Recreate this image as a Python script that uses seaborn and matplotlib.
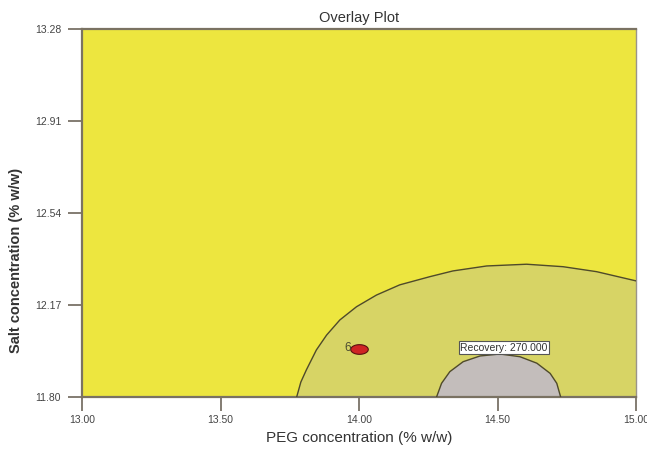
import numpy as np
import pandas as pd
import matplotlib
matplotlib.use("Agg")
import matplotlib.pyplot as plt
from matplotlib.path import Path
import seaborn as sns

# ---- data ----
x_ticks = [13.00, 13.50, 14.00, 14.50, 15.00]
y_ticks = [11.80, 12.17, 12.54, 12.91, 13.28]

# outer feasible-region boundary (PEG, Salt)
outer_peg = [13.775, 13.790, 13.810, 13.846, 13.883, 13.931, 13.991, 14.063, 14.147,
             14.256, 14.339, 14.461, 14.605, 14.737, 14.858, 15.000]
outer_salt = [11.800, 11.860, 11.909, 11.989, 12.049, 12.110, 12.163, 12.210, 12.251,
              12.284, 12.307, 12.327, 12.334, 12.324, 12.304, 12.267]

# Recovery = 270.000 contour (PEG, Salt)
rec_peg = [14.280, 14.298, 14.328, 14.376, 14.437, 14.509, 14.581, 14.642,
           14.690, 14.714, 14.728]
rec_salt = [11.800, 11.855, 11.902, 11.942, 11.965, 11.973, 11.962, 11.936,
            11.895, 11.855, 11.800]
rec_label = "Recovery: 270.000"
rec_label_pos = (14.523, 11.999)

# design point
pt_peg = [14.00]
pt_salt = [11.993]
pt_label = ["6"]

# ---- styling ----
sns.set_theme(style="white")
plt.rcParams["font.family"] = ["Liberation Sans", "DejaVu Sans"]

yellow = "#EDE63F"
olive = "#D7D465"
grey = "#C3BDBB"
edge = "#4F4A2A"

fig = plt.figure(figsize=(6.47, 4.50), dpi=100)
ax = fig.add_axes([82 / 647, 1 - 397 / 450, (636 - 82) / 647, (397 - 29) / 450])
ax.set_facecolor(yellow)

xmin, xmax = 13.00, 15.00
ymin, ymax = 11.80, 13.28

# outer region fill (close along right and bottom edges)
ox = outer_peg + [xmax]
oy = outer_salt + [ymin]
ax.fill(ox, oy, color=olive, zorder=1, lw=0)
# recovery region
ax.fill(rec_peg, rec_salt, color=grey, zorder=2, lw=0)

outer_df = pd.DataFrame({"PEG": outer_peg, "Salt": outer_salt})
rec_df = pd.DataFrame({"PEG": rec_peg, "Salt": rec_salt})
sns.lineplot(data=outer_df, x="PEG", y="Salt", sort=False, ax=ax,
             color=edge, lw=1.0, zorder=3)
sns.lineplot(data=rec_df, x="PEG", y="Salt", sort=False, ax=ax,
             color=edge, lw=1.0, zorder=3)

# elliptical marker
t = np.linspace(0, 2 * np.pi, 60)
ell = Path(np.column_stack([np.cos(t), 0.55 * np.sin(t)]), closed=True)
pt_df = pd.DataFrame({"PEG": pt_peg, "Salt": pt_salt})
sns.scatterplot(data=pt_df, x="PEG", y="Salt", ax=ax, marker=ell, s=160,
                color="#CF2424", edgecolor="#5A1010", linewidth=0.8, zorder=5)
for px, py, lab in zip(pt_peg, pt_salt, pt_label):
    ax.annotate(lab, (px, py), xytext=(-6, 0.5), textcoords="offset points",
                ha="right", va="center", fontsize=8.5, color="#4A4A30", zorder=6)

ax.text(rec_label_pos[0], rec_label_pos[1], rec_label, ha="center", va="center",
        fontsize=7.5, color="#333333", zorder=6,
        bbox=dict(boxstyle="square,pad=0.15", fc="white", ec="#555555", lw=0.8))

ax.set_xlim(xmin, xmax)
ax.set_ylim(ymin, ymax)
ax.set_xticks(x_ticks)
ax.set_xticklabels([f"{v:.2f}" for v in x_ticks])
ax.set_yticks(y_ticks)
ax.set_yticklabels([f"{v:.2f}" for v in y_ticks])
ax.tick_params(axis="both", which="major", direction="out", length=10, width=1.2,
               color="#6E665A", labelsize=7.5, labelcolor="#444444", pad=5,
               bottom=True, left=True)
ax.tick_params(axis="x", pad=3)

for s in ["left", "bottom", "top"]:
    ax.spines[s].set_color("#7A7262")
    ax.spines[s].set_linewidth(1.6)
ax.spines["right"].set_color("#9A948A")
ax.spines["right"].set_linewidth(1.0)

ax.set_title("Overlay Plot", fontsize=10.5, color="#333333", pad=5)
ax.set_xlabel("PEG concentration (% w/w)", fontsize=11, color="#333333", labelpad=4)
ax.set_ylabel("Salt concentration (% w/w)", fontsize=10.5, color="#333333",
              fontweight="bold")
ax.yaxis.set_label_coords(-0.106, 0.37)

fig.savefig("out.png", dpi=100, facecolor="white")
